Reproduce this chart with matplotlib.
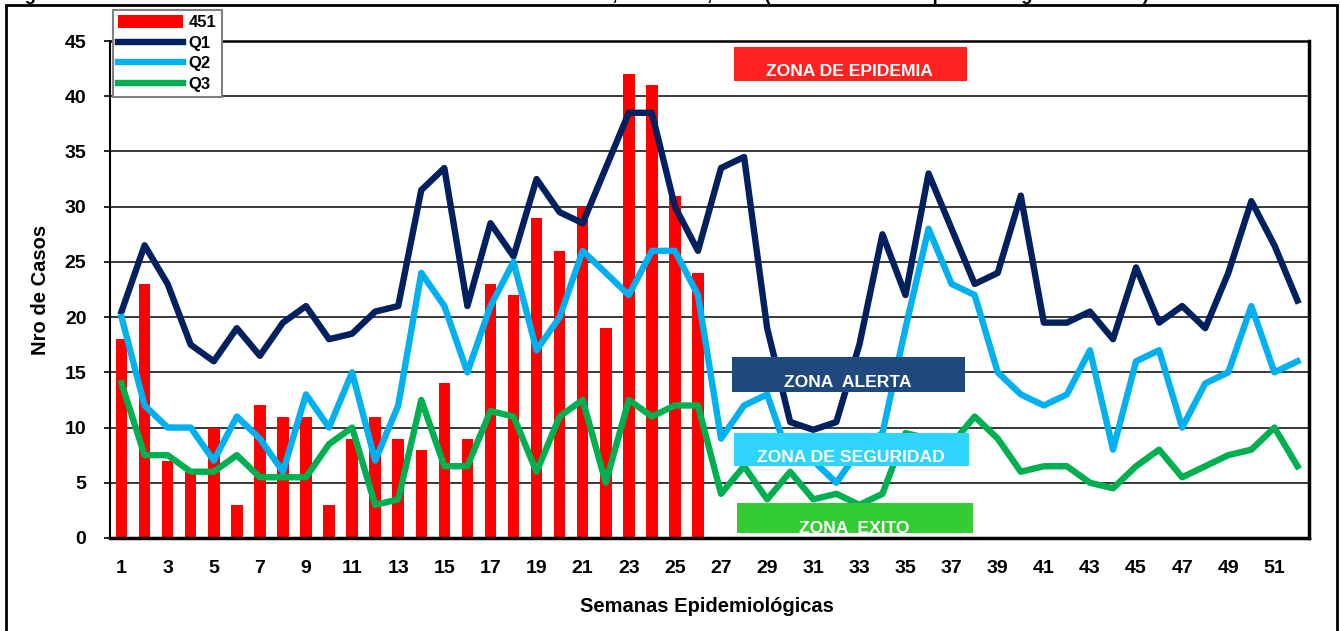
import matplotlib
matplotlib.use('Agg')
import matplotlib.pyplot as plt
from matplotlib import font_manager as fm
from matplotlib.patches import Rectangle

_names = {f.name for f in fm.fontManager.ttflist}
MAIN = 'Liberation Sans' if 'Liberation Sans' in _names else 'DejaVu Sans'
HAS_NARROW = 'Liberation Sans Narrow' in _names
NARROW = 'Liberation Sans Narrow' if HAS_NARROW else MAIN
ZONE_SIZE = 15 if HAS_NARROW else 12.6
plt.rcParams['font.family'] = [MAIN, 'DejaVu Sans']

# ---------------- data ----------------
weeks = list(range(1, 53))
bar_weeks = list(range(1, 27))
casos_451 = [18, 23, 7, 6, 10, 3, 12, 11, 11, 3, 9, 11, 9, 8, 14, 9, 23, 22, 29, 26,
             30, 19, 42, 41, 31, 24]
q1 = [20.5, 26.5, 23, 17.5, 16, 19, 16.5, 19.5, 21, 18, 18.5, 20.5, 21, 31.5, 33.5, 21,
      28.5, 25.5, 32.5, 29.5, 28.5, 33.5, 38.5, 38.5, 30, 26,
      33.5, 34.5, 19, 10.5, 9.8, 10.5, 17.5, 27.5, 22, 33, 28, 23, 24, 31,
      19.5, 19.5, 20.5, 18, 24.5, 19.5, 21, 19, 24, 30.5, 26.5, 21.5]
q2 = [20, 12, 10, 10, 7, 11, 9, 6, 13, 10, 15, 7, 12,
      24, 21, 15, 21, 25, 17, 20, 26, 24, 22, 26, 26, 22,
      9, 12, 13, 7, 7, 5, 8, 9.5, 19, 28, 23, 22, 15, 13,
      12, 13, 17, 8, 16, 17, 10, 14, 15, 21, 15, 16]
q3 = [14, 7.5, 7.5, 6, 6, 7.5, 5.5, 5.5, 5.5, 8.5, 10, 3, 3.5,
      12.5, 6.5, 6.5, 11.5, 11, 6, 11, 12.5, 5, 12.5, 11, 12, 12,
      4, 6.5, 3.5, 6, 3.5, 4, 3, 4, 9.5, 9, 8.5, 11, 9, 6,
      6.5, 6.5, 5, 4.5, 6.5, 8, 5.5, 6.5, 7.5, 8, 10, 6.5]
y_ticks = list(range(0, 46, 5))
x_ticks = list(range(1, 53, 2))
series_labels = ['451', 'Q1', 'Q2', 'Q3']
zone_labels = ['ZONA DE EPIDEMIA', 'ZONA  ALERTA', 'ZONA DE SEGURIDAD', 'ZONA  EXITO']
title = ('Figura N° 1: Canal endémico de casos de IRA en menores de 5 años, '
         'Provincia, 2013 (Hasta la semana epidemiológica 26 - 2013)')

W, H = 1340, 631
fig = plt.figure(figsize=(W / 100, H / 100), dpi=100)
ax = fig.add_axes([110 / W, (H - 538) / H, 1199 / W, 497 / H])

bars = ax.bar(bar_weeks, casos_451, width=0.5, color='#ff0000', zorder=2,
              label=series_labels[0])
l1, = ax.plot(weeks, q1, color='#002060', lw=4.6, zorder=3, label=series_labels[1])
l2, = ax.plot(weeks, q2, color='#00b0f0', lw=4.6, zorder=3, label=series_labels[2])
l3, = ax.plot(weeks, q3, color='#00b050', lw=4.6, zorder=3, label=series_labels[3])

ax.set_xlim(0.5, 52.5)
ax.set_ylim(0, 45)
ax.set_yticks(y_ticks)
ax.set_xticks(x_ticks)
ax.yaxis.grid(True, color='#2a2a2a', lw=1.3, zorder=1)
ax.set_axisbelow(True)
for s, lw in [('left', 1.5), ('bottom', 2.5), ('right', 2.5), ('top', 1.8)]:
    ax.spines[s].set_linewidth(lw)
    ax.spines[s].set_color('black')

ax.tick_params(axis='y', length=4, width=1.2, direction='out', pad=13, labelsize=14)
ax.tick_params(axis='x', length=0, pad=16, labelsize=14)
for lab in ax.get_xticklabels() + ax.get_yticklabels():
    lab.set_fontweight('bold')

fig.text(41 / W, 1 - 290 / H, 'Nro de Casos', rotation=90, ha='center', va='center',
         fontsize=14.5, fontweight='bold')
fig.text(707 / W, 1 - 607 / H, 'Semanas Epidemiológicas', ha='center', va='center',
         fontsize=14.5, fontweight='bold')

# zone labels (annotation boxes)
def fx(px):
    return (px - 110) / 1199

def fy(py):
    return (538 - py) / 497

zones = [
    ('#ff2020', (734, 46.7, 967, 80.7), (849.5, 76.0)),
    ('#1f497d', (732, 357.3, 965, 391.7), (848.0, 386.7)),
    ('#30d5ff', (734, 433.0, 969, 465.7), (851.0, 461.7)),
    ('#33cc33', (737, 502.7, 973, 533.3), (854.5, 532.7)),
]
for label, (col, (x0, y0, x1, y1), (tx, ty)) in zip(zone_labels, zones):
    ax.add_patch(Rectangle((fx(x0), fy(y1)), fx(x1) - fx(x0), fy(y0) - fy(y1),
                           transform=ax.transAxes, facecolor=col, edgecolor='none',
                           zorder=5))
    ax.text(fx(tx), fy(ty), label, transform=ax.transAxes, ha='center', va='baseline',
            color='white', fontsize=ZONE_SIZE, fontweight='bold',
            family=[NARROW, 'DejaVu Sans'], zorder=6)

leg = fig.legend(handles=[bars, l1, l2, l3], labels=series_labels,
                 loc='upper left', bbox_to_anchor=(113 / W, 1 - 10 / H),
                 frameon=True, fancybox=False, framealpha=1, edgecolor='#808080',
                 prop={'family': [MAIN, 'DejaVu Sans'], 'weight': 'bold', 'size': 12},
                 handlelength=3.9, handleheight=0.8, handletextpad=0.35, borderpad=0.3,
                 labelspacing=0.32, borderaxespad=0)
leg.get_frame().set_linewidth(1.5)

# outer frame and clipped title (the reference shows only its lowest pixels)
fig.add_artist(Rectangle((6 / W, -0.1), (1337 - 6) / W, 1.1 - 5 / H,
                         transform=fig.transFigure, fill=False, edgecolor='black',
                         lw=2, clip_on=False))
fig.text(8 / W, 1 - 0.5 / H, title, ha='left', va='baseline', fontsize=13.5,
         fontweight='bold', family=[NARROW, 'DejaVu Sans'])

fig.savefig('out.png', dpi=100)
